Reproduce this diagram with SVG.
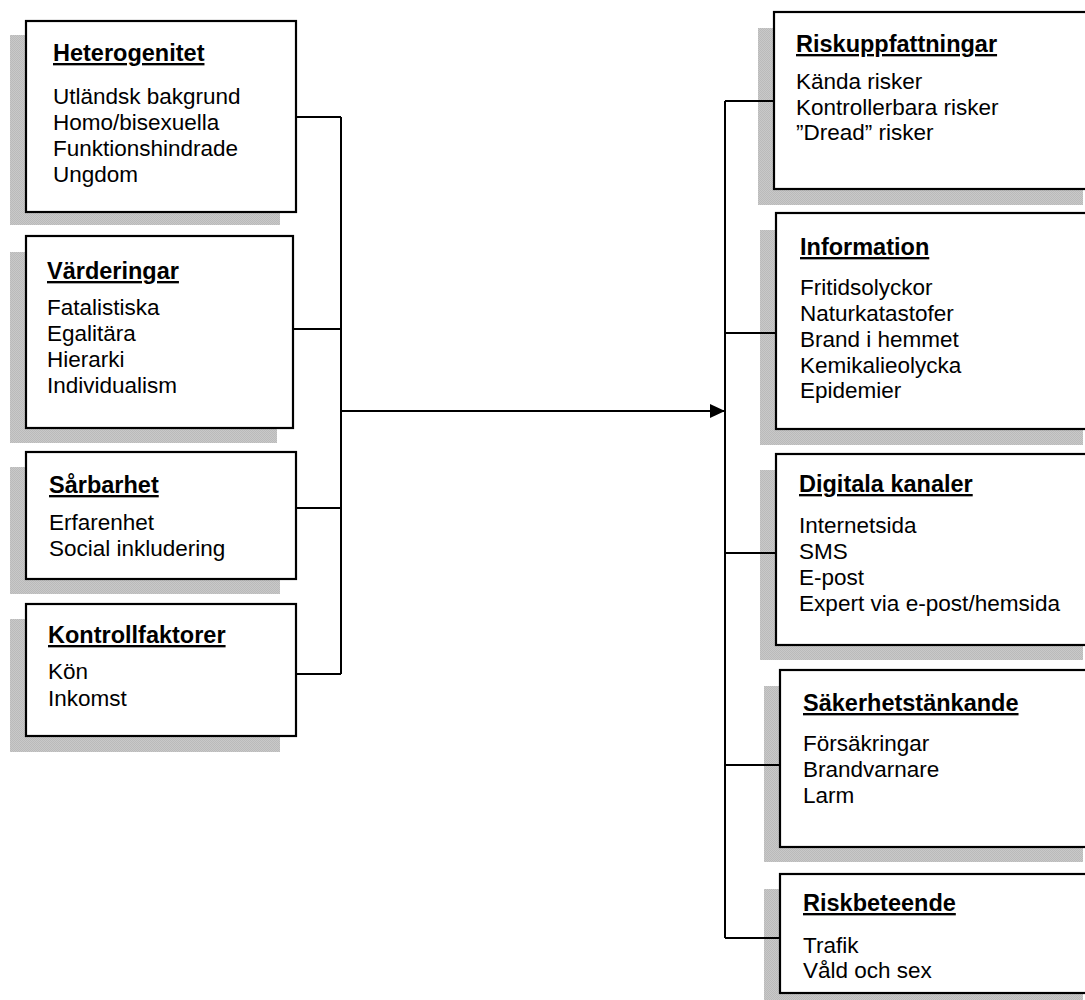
<svg xmlns="http://www.w3.org/2000/svg" width="1085" height="1000" viewBox="0 0 1085 1000">
<defs>
<pattern id="dither" width="2" height="2" patternUnits="userSpaceOnUse">
<rect width="2" height="2" fill="#c9c9c9"/>
<rect width="1" height="1" fill="#bababa"/>
<rect x="1" y="1" width="1" height="1" fill="#bababa"/>
</pattern>
<marker id="arrow" markerWidth="15" markerHeight="14" refX="15" refY="7" orient="auto" markerUnits="userSpaceOnUse">
<path d="M0,0 L15,7 L0,14 Z" fill="#000"/>
</marker>
</defs>
<style>
.shadow{fill:url(#dither);}
.box{fill:#fff;stroke:#000;stroke-width:2.2;}
.title{font-family:"Liberation Sans",Arial,sans-serif;font-weight:bold;font-size:23.5px;text-decoration:underline;fill:#000;}
.item{font-family:"Liberation Sans",Arial,sans-serif;font-size:22.5px;fill:#000;}
.conn{fill:none;stroke:#000;stroke-width:2;}
</style>
<rect width="1085" height="1000" fill="#fff"/>

<g id="heterogenitet">
<rect class="shadow" x="10" y="35" width="270" height="190"/>
<rect class="box" x="26" y="21" width="270" height="191"/>
<text class="title" x="53" y="61">Heterogenitet</text>
<text class="item" x="53" y="104">Utländsk bakgrund</text>
<text class="item" x="53" y="130">Homo/bisexuella</text>
<text class="item" x="53" y="156">Funktionshindrade</text>
<text class="item" x="53" y="182">Ungdom</text>
</g>

<g id="varderingar">
<rect class="shadow" x="10" y="252" width="267" height="191"/>
<rect class="box" x="26" y="236" width="267" height="192"/>
<text class="title" x="47" y="279">Värderingar</text>
<text class="item" x="47" y="315">Fatalistiska</text>
<text class="item" x="47" y="341">Egalitära</text>
<text class="item" x="47" y="367">Hierarki</text>
<text class="item" x="47" y="393">Individualism</text>
</g>

<g id="sarbarhet">
<rect class="shadow" x="10" y="467" width="270" height="127"/>
<rect class="box" x="26" y="452" width="270" height="127"/>
<text class="title" x="49" y="493">Sårbarhet</text>
<text class="item" x="49" y="530">Erfarenhet</text>
<text class="item" x="49" y="556">Social inkludering</text>
</g>

<g id="kontrollfaktorer">
<rect class="shadow" x="10" y="619" width="270" height="133"/>
<rect class="box" x="26" y="604" width="270" height="132"/>
<text class="title" x="48" y="643">Kontrollfaktorer</text>
<text class="item" x="48" y="679">Kön</text>
<text class="item" x="48" y="706">Inkomst</text>
</g>

<g id="riskuppfattningar">
<rect class="shadow" x="758" y="28" width="325" height="177"/>
<rect class="box" x="774" y="12" width="325" height="177"/>
<text class="title" x="796" y="52">Riskuppfattningar</text>
<text class="item" x="796" y="89">Kända risker</text>
<text class="item" x="796" y="115">Kontrollerbara risker</text>
<text class="item" x="796" y="140">”Dread” risker</text>
</g>

<g id="information">
<rect class="shadow" x="760" y="230" width="323" height="215"/>
<rect class="box" x="776" y="213" width="323" height="216"/>
<text class="title" x="800" y="255">Information</text>
<text class="item" x="800" y="295">Fritidsolyckor</text>
<text class="item" x="800" y="321">Naturkatastofer</text>
<text class="item" x="800" y="347">Brand i hemmet</text>
<text class="item" x="800" y="373">Kemikalieolycka</text>
<text class="item" x="800" y="398">Epidemier</text>
</g>

<g id="digitala">
<rect class="shadow" x="760" y="470" width="323" height="190"/>
<rect class="box" x="776" y="454" width="323" height="191"/>
<text class="title" x="799" y="492">Digitala kanaler</text>
<text class="item" x="799" y="533">Internetsida</text>
<text class="item" x="799" y="559">SMS</text>
<text class="item" x="799" y="585">E-post</text>
<text class="item" x="799" y="611" textLength="261" lengthAdjust="spacingAndGlyphs">Expert via e-post/hemsida</text>
</g>

<g id="sakerhet">
<rect class="shadow" x="764" y="686" width="319" height="176"/>
<rect class="box" x="780" y="670" width="319" height="177"/>
<text class="title" x="803" y="711">Säkerhetstänkande</text>
<text class="item" x="803" y="751">Försäkringar</text>
<text class="item" x="803" y="777">Brandvarnare</text>
<text class="item" x="803" y="803">Larm</text>
</g>

<g id="riskbeteende">
<rect class="shadow" x="764" y="889" width="319" height="120"/>
<rect class="box" x="780" y="874" width="319" height="119"/>
<text class="title" x="803" y="911">Riskbeteende</text>
<text class="item" x="803" y="953">Trafik</text>
<text class="item" x="803" y="978">Våld och sex</text>
</g>

<g id="connectors">
<path class="conn" d="M296,117 H341 M293,329 H341 M296,508 H341 M296,674 H341 M341,117 V674"/>
<path class="conn" d="M341,411 H725" marker-end="url(#arrow)"/>
<path class="conn" d="M725,101 V938 M725,101 H774 M725,333 H776 M725,553 H776 M725,765 H780 M725,938 H780"/>
</g>
</svg>
